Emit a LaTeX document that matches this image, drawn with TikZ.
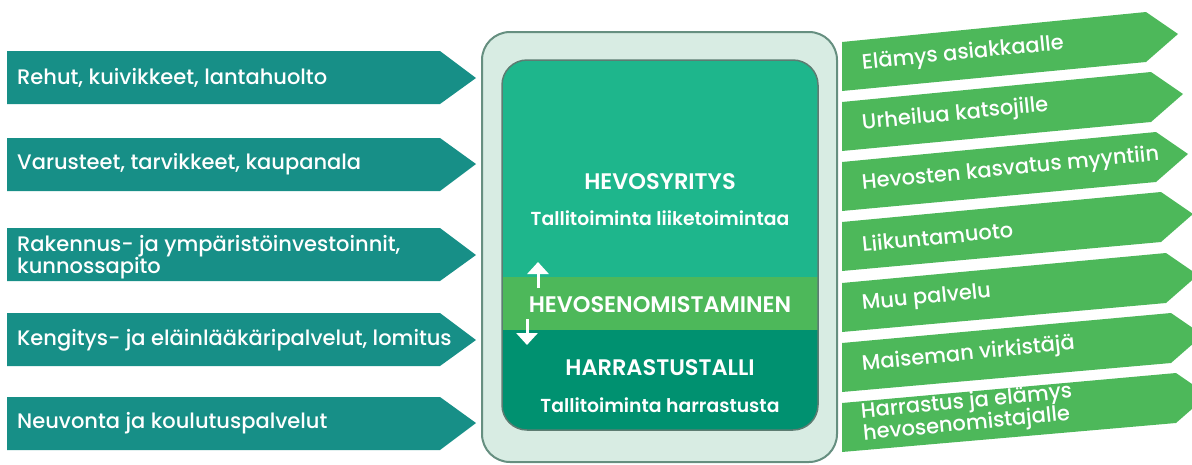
\documentclass[tikz,border=0pt]{standalone}
\usepackage{fontspec}
\setmainfont{Poppins}[UprightFont=* Medium, BoldFont=* SemiBold]
\usetikzlibrary{arrows.meta}
\definecolor{inteal}{HTML}{178F87}
\definecolor{outgreen}{HTML}{4DB85A}
\definecolor{boxbg}{HTML}{D8ECE3}
\definecolor{boxline}{HTML}{668F80}
\definecolor{toppart}{HTML}{1EB68C}
\definecolor{midpart}{HTML}{4DB85A}
\definecolor{lowpart}{HTML}{009170}
\definecolor{innerline}{HTML}{5D7C72}

\begin{document}
\begin{tikzpicture}[x=1pt, y=-1pt, every node/.style={text=white, inner sep=0pt, font=\fontsize{21}{20}\selectfont}, inarrow/.style={fill=inteal}, outarrow/.style={fill=outgreen}, outtext/.style={anchor=west, rotate=5.6}, title/.style={font=\fontsize{22.5}{24}\selectfont\bfseries}, subtitle/.style={font=\fontsize{18.8}{20}\selectfont\bfseries}, flow/.style={white, line width=3pt, -{Triangle[width=21pt,length=12pt]}}]
            \useasboundingbox (0,0) rectangle (1192,464);
            % inputs
            \fill[inarrow] (7,51) -- (440,51) -- (476,78) -- (440,104) -- (7,104) -- cycle;
            \fill[inarrow] (7,138) -- (440,138) -- (476,164) -- (440,191) -- (7,191) -- cycle;
            \fill[inarrow] (7,228) -- (440,228) -- (476,255) -- (440,281) -- (7,281) -- cycle;
            \fill[inarrow] (7,313) -- (440,313) -- (476,340) -- (440,366) -- (7,366) -- cycle;
            \fill[inarrow] (7,397) -- (440,397) -- (476,423) -- (440,450) -- (7,450) -- cycle;
            \node[anchor=west] (rehut) at (17,78) {Rehut, kuivikkeet, lantahuolto};
            \node[anchor=west] (varusteet) at (17,164) {Varusteet, tarvikkeet, kaupanala};
            \node[anchor=west, align=left] (rakennus) at (17,257) {Rakennus- ja ympäristöinvestoinnit,\\kunnossapito};
            \node[anchor=west] (kengitys) at (17,340) {Kengitys- ja eläinlääkäripalvelut, lomitus};
            \node[anchor=west] (neuvonta) at (17,423) {Neuvonta ja koulutuspalvelut};

            % stable box
            \draw[fill=boxbg, draw=boxline, line width=2pt, rounded corners=28pt] (482,32) rectangle (837,462);
            \begin{scope}
            \clip[rounded corners=25pt] (502,60) rectangle (818,430);
            \fill[toppart] (502,60) rectangle (818,277);
            \fill[midpart] (502,277) rectangle (818,330);
            \fill[lowpart] (502,330) rectangle (818,430);
            \end{scope}
            \draw[draw=innerline, line width=1.5pt, rounded corners=25pt] (502,60) rectangle (818,430);
            \node[title] (yritys) at (660,182) {HEVOSYRITYS};
            \node[subtitle] (liike) at (660,218) {Tallitoiminta liiketoimintaa};
            \node[title] (omistus) at (660,305) {HEVOSENOMISTAMINEN};
            \node[title] (talli) at (660,368) {HARRASTUSTALLI};
            \node[subtitle] (harrastus) at (660,405) {Tallitoiminta harrastusta};
            \coordinate (upfrom) at (538,288);
            \coordinate (upto) at (538,262);
            \coordinate (downfrom) at (527,319);
            \coordinate (downto) at (527,345);
            \draw[flow] (upfrom) -- (upto);
            \draw[flow] (downfrom) -- (downto);

            % outputs
            \fill[outarrow] (842,42) -- (1146,12) -- (1178,34) -- (1146,62) -- (842,91) -- cycle;
            \fill[outarrow] (842,102) -- (1151,72) -- (1183,94) -- (1151,122) -- (842,151) -- cycle;
            \fill[outarrow] (842,162) -- (1156,132) -- (1188,154) -- (1156,182) -- (842,211) -- cycle;
            \fill[outarrow] (842,222) -- (1161,192) -- (1193,214) -- (1161,242) -- (842,271) -- cycle;
            \fill[outarrow] (842,283) -- (1166,253) -- (1198,275) -- (1166,303) -- (842,332) -- cycle;
            \fill[outarrow] (842,343) -- (1171,313) -- (1203,335) -- (1171,363) -- (842,392) -- cycle;
            \fill[outarrow] (842,403) -- (1176,373) -- (1208,395) -- (1176,423) -- (842,452) -- cycle;
            \node[outtext] (elamys) at (862,64) {Elämys asiakkaalle};
            \node[outtext] (urheilu) at (862,124) {Urheilua katsojille};
            \node[outtext] (kasvatus) at (862,184) {Hevosten kasvatus myyntiin};
            \node[outtext] (liikunta) at (862,244) {Liikuntamuoto};
            \node[outtext] (palvelu) at (862,305) {Muu palvelu};
            \node[outtext] (maisema) at (862,365) {Maiseman virkistäjä};
            \node[outtext, align=left, font=\fontsize{21}{22}\selectfont] (omistajalle) at (862,424) {Harrastus ja elämys\\hevosenomistajalle};
            %\node[outtext] (muu) at (862,480) {};
\end{tikzpicture}
\end{document}
